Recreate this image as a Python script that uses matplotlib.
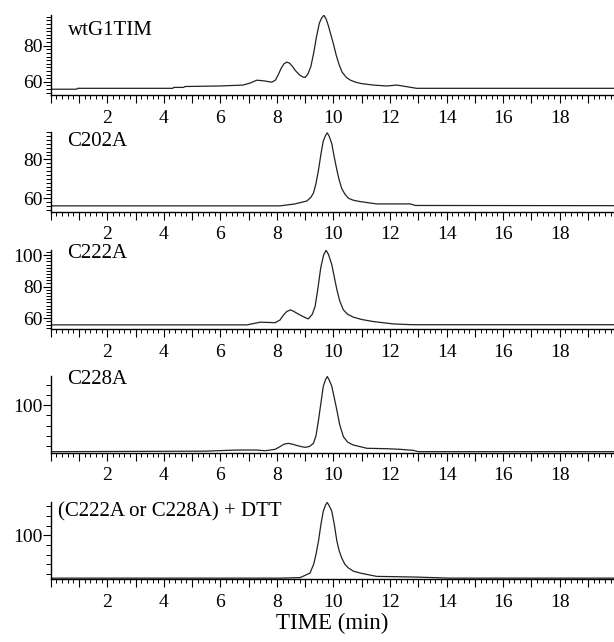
import matplotlib.pyplot as plt
from matplotlib.ticker import MultipleLocator, FuncFormatter

plt.rcParams['font.family'] = ['Liberation Serif', 'DejaVu Serif']

# panel names
names = ['wtG1TIM', 'C202A', 'C222A', 'C228A', '(C222A or C228A) + DTT']

# wtG1TIM
t_wt = [0.0, 0.92, 0.95, 4.32, 4.35, 4.7, 4.75, 6.0, 6.8, 7.05, 7.29, 7.55, 7.82,
        7.95, 8.05, 8.15, 8.25, 8.35, 8.45, 8.55, 8.65, 8.8, 8.9, 9.0,
        9.1, 9.2, 9.3, 9.4, 9.5, 9.58, 9.66, 9.74, 9.82, 9.9, 10.0, 10.1, 10.2,
        10.3, 10.45, 10.6, 10.8, 11.0, 11.41, 11.88, 12.24, 12.59, 12.94, 19.95]
v_wt = [55.9, 55.9, 56.4, 56.4, 56.9, 56.9, 57.4, 57.7, 58.2, 59.3, 60.9, 60.5, 59.8,
        61.0, 64.0, 67.5, 70.0, 70.9, 70.3, 68.5, 66.3, 63.8, 62.8, 62.4,
        64.5, 68.5, 76.0, 85.0, 92.5, 95.3, 96.9, 94.8, 91.0, 86.5, 80.9, 74.5, 69.5,
        65.5, 62.5, 60.9, 59.7, 59.0, 58.2, 57.7, 58.2, 57.3, 56.4, 56.4]

# C202A
t_202 = [0.0, 8.11, 8.64, 9.06, 9.2, 9.29, 9.38, 9.47, 9.56, 9.64, 9.72, 9.78, 9.85,
         9.94, 10.03, 10.12, 10.2, 10.29, 10.4, 10.53, 10.7, 10.94, 11.53, 12.71,
         12.9, 19.95]
v_202 = [56.1, 56.1, 57.1, 58.6, 60.5, 62.6, 67.5, 74.5, 83.0, 89.5, 92.3, 93.6, 91.8,
         88.0, 81.0, 74.5, 69.5, 65.1, 62.2, 60.0, 59.0, 58.3, 57.1, 57.1,
         56.3, 56.2]

# C222A
t_222 = [0.0, 6.94, 7.41, 7.94, 8.11, 8.22, 8.35, 8.48, 8.6, 8.75, 8.9, 9.05, 9.11,
         9.25, 9.35, 9.45, 9.55, 9.65, 9.74, 9.82, 9.94, 10.03, 10.12, 10.22, 10.35,
         10.5, 10.7, 11.0, 11.41, 12.12, 12.8, 19.95]
v_222 = [55.8, 55.8, 57.5, 57.2, 58.9, 61.8, 64.3, 65.3, 64.3, 62.7, 61.3, 60.0, 59.6,
         62.5, 67.5, 79.0, 92.0, 100.0, 103.0, 100.5, 94.0, 86.0, 78.1, 71.0, 65.3,
         62.5, 60.7, 59.2, 57.9, 56.4, 55.9, 55.9]

# C228A
t_228 = [0.0, 5.46, 6.58, 7.29, 7.58, 7.94, 8.1, 8.25, 8.4, 8.55, 8.7, 8.85, 9.0,
         9.15, 9.29, 9.38, 9.47, 9.56, 9.64, 9.72, 9.78, 9.85, 9.94, 10.03, 10.12,
         10.22, 10.35, 10.5, 10.7, 11.18, 11.88, 12.35, 12.82, 13.0, 19.95]
v_228 = [54.7, 55.2, 56.3, 56.3, 55.6, 57.0, 59.5, 62.0, 62.8, 62.0, 60.8, 59.7, 58.9,
         59.8, 62.8, 70.0, 85.4, 103.0, 118.5, 125.0, 128.0, 124.5, 118.5, 107.0, 95.1,
         81.0, 69.3, 64.0, 61.2, 58.0, 57.6, 57.0, 56.0, 54.7, 54.7]

# (C222A or C228A) + DTT
t_dtt = [0.0, 8.11, 8.82, 9.17, 9.3, 9.38, 9.47, 9.56, 9.64, 9.72, 9.78, 9.85, 9.94,
         10.03, 10.12, 10.2, 10.29, 10.4, 10.53, 10.7, 10.94, 11.53, 12.24, 12.94,
         14.12, 19.95]
v_dtt = [55.5, 55.5, 56.0, 60.8, 70.0, 80.0, 94.0, 112.0, 125.0, 131.5, 134.0, 130.5,
         125.0, 111.0, 94.0, 84.0, 76.5, 70.0, 66.0, 62.8, 60.8, 57.3, 57.0, 56.6,
         55.5, 55.5]

times = [t_wt, t_202, t_222, t_228, t_dtt]
signals = [v_wt, v_202, v_222, v_228, v_dtt]
ylims = [(52.7, 97.0), (53.1, 94.2), (53.0, 103.2), (53.7, 128.5), (54.3, 134.5)]
yticks = [[60, 80], [60, 80], [60, 80, 100], [100], [100]]
yminor = [2, 2, 2, 10, 10]
label_y = [0.81, 0.875, 0.96, 0.96, 0.87]

# pixel top / bottom of each panel
tops = [15, 131.7, 250, 376, 502]
bottoms = [95, 211.7, 329.3, 452.7, 579.3]

W, H = 614, 642
fig = plt.figure(figsize=(W / 100, H / 100), dpi=100)
left = 50.7 / W

for i in range(5):
    ax = fig.add_axes([left, 1 - bottoms[i] / H, 1 - left, (bottoms[i] - tops[i]) / H])
    ax.plot(times[i], signals[i], color='#222222', lw=0.9)
    ax.set_xlim(0, 19.92)
    ax.set_ylim(*ylims[i])
    for s in ['top', 'right']:
        ax.spines[s].set_visible(False)
    for s in ['left', 'bottom']:
        ax.spines[s].set_linewidth(1.0)

    ax.xaxis.set_major_locator(MultipleLocator(1))
    ax.xaxis.set_minor_locator(MultipleLocator(0.2))
    ax.xaxis.set_major_formatter(FuncFormatter(
        lambda x, p: f'{int(round(x))}' if round(x) % 2 == 0 and 0 < x < 19.5 else ''))
    ax.set_yticks(yticks[i])
    ax.yaxis.set_minor_locator(MultipleLocator(yminor[i]))

    ax.tick_params(axis='x', which='major', length=6, width=0.8, labelsize=14, pad=4.5)
    ax.tick_params(axis='x', which='minor', length=3, width=0.7)
    ax.tick_params(axis='y', which='major', length=5.5, width=0.8, labelsize=14, pad=0.5)
    ax.tick_params(axis='y', which='minor', length=3.5, width=0.7)

    ax.text(0.03 if i < 4 else 0.013, label_y[i], names[i], transform=ax.transAxes,
            fontsize=15, va='center', ha='left')

fig.text(0.5 + left / 2, 0.012, 'TIME (min)', ha='center', va='bottom', fontsize=16.5)

fig.savefig('out.png', dpi=100)
